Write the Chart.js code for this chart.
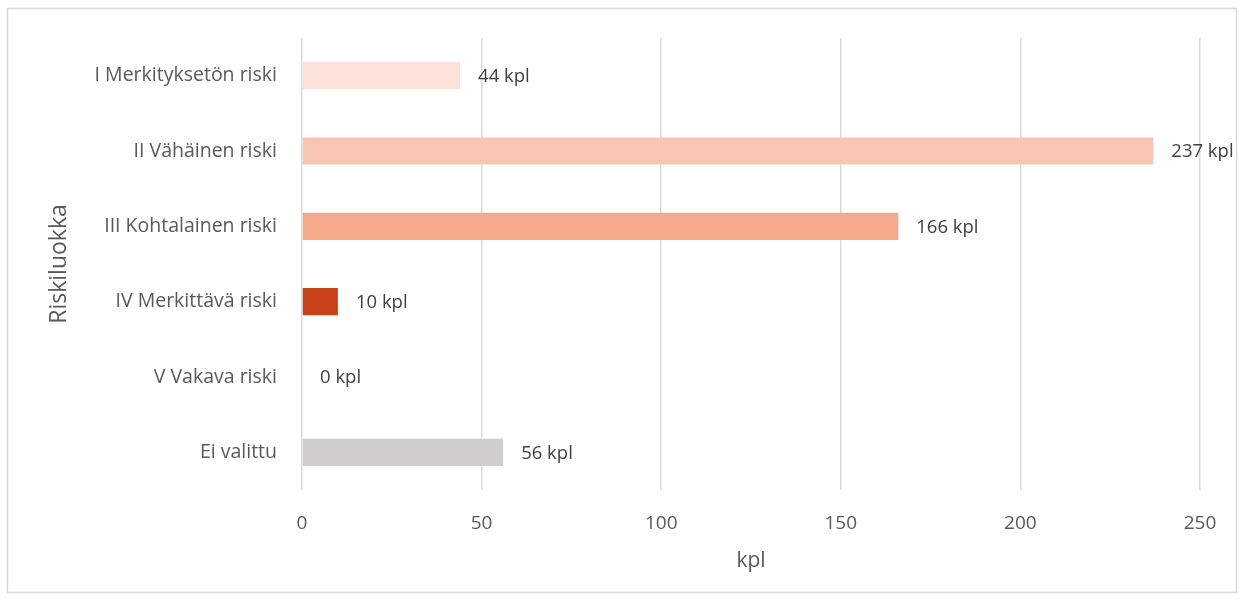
<!DOCTYPE html>
<html><head><meta charset="utf-8">
<script src="https://cdn.jsdelivr.net/npm/chart.js@4/dist/chart.umd.min.js"></script>
<style>html,body{margin:0;padding:0;background:#fff}#wrap{width:1244px;height:600px;position:relative}</style>
</head><body><div id="wrap"><canvas id="c" width="1244" height="600"></canvas></div>
<script>
const categories = ["I Merkityksetön riski","II Vähäinen riski","III Kohtalainen riski","IV Merkittävä riski","V Vakava riski","Ei valittu"];
const values = [44, 237, 166, 10, 0, 56];
const barColors = ["#FCE1D9","#F8C5B3","#F4A98B","#C8431A","#F0F0F0","#D0CECE"];
const xTicks = [0, 50, 100, 150, 200, 250];
const valueSuffix = " kpl";

const FONT = "'Open Sans', 'Liberation Sans', sans-serif";
const TXT = "#595959";

const borderPlugin = {
  id: 'frame',
  beforeDraw(chart) {
    const ctx = chart.ctx;
    ctx.save();
    ctx.fillStyle = '#fff';
    ctx.fillRect(0, 0, chart.width, chart.height);
    ctx.strokeStyle = '#D9D9D9';
    ctx.lineWidth = 1.5;
    ctx.strokeRect(7.5, 8.5, 1229, 584);
    ctx.restore();
  }
};
const labelPlugin = {
  id: 'vlabels',
  afterDatasetsDraw(chart) {
    const ctx = chart.ctx;
    const meta = chart.getDatasetMeta(0);
    ctx.save();
    ctx.font = "18.5px " + FONT;
    ctx.fillStyle = "#404040";
    ctx.textBaseline = 'middle';
    ctx.textAlign = 'left';
    meta.data.forEach((bar, i) => {
      ctx.fillText(values[i] + valueSuffix, bar.x + 18, bar.y + 1);
    });
    ctx.restore();
  }
};

new Chart(document.getElementById('c'), {
  type: 'bar',
  data: {
    labels: categories,
    datasets: [{
      data: values,
      backgroundColor: barColors,
      barPercentage: 0.36,
      categoryPercentage: 1.0,
      borderWidth: 0
    }]
  },
  options: {
    indexAxis: 'y',
    responsive: false,
    animation: false,
    devicePixelRatio: 1,
    layout: { padding: { left: 40, right: 44, top: 38, bottom: 22 } },
    plugins: { legend: { display: false }, tooltip: { enabled: false } },
    scales: {
      x: {
        min: 0, max: 250,
        afterBuildTicks(axis) { axis.ticks = xTicks.map(v => ({ value: v })); },
        afterFit(axis) { axis.height = 600 - 490 - 22; },
        grid: { color: '#D9D9D9', lineWidth: 1.5, drawTicks: false },
        border: { display: false },
        ticks: { color: TXT, font: { family: FONT, size: 19 }, padding: 22 },
        title: { display: true, text: 'kpl', color: TXT, font: { family: FONT, size: 21 }, padding: { top: 8 } }
      },
      y: {
        afterFit(axis) { axis.width = 302 - 40; },
        grid: { display: false, drawTicks: false },
        border: { display: false },
        ticks: { color: TXT, font: { family: FONT, size: 19.5 }, padding: 25 },
        title: { display: true, text: 'Riskiluokka', color: TXT, font: { family: FONT, size: 23 }, padding: { top: 6, bottom: 0 } }
      }
    }
  },
  plugins: [borderPlugin, labelPlugin]
});
</script></body></html>
